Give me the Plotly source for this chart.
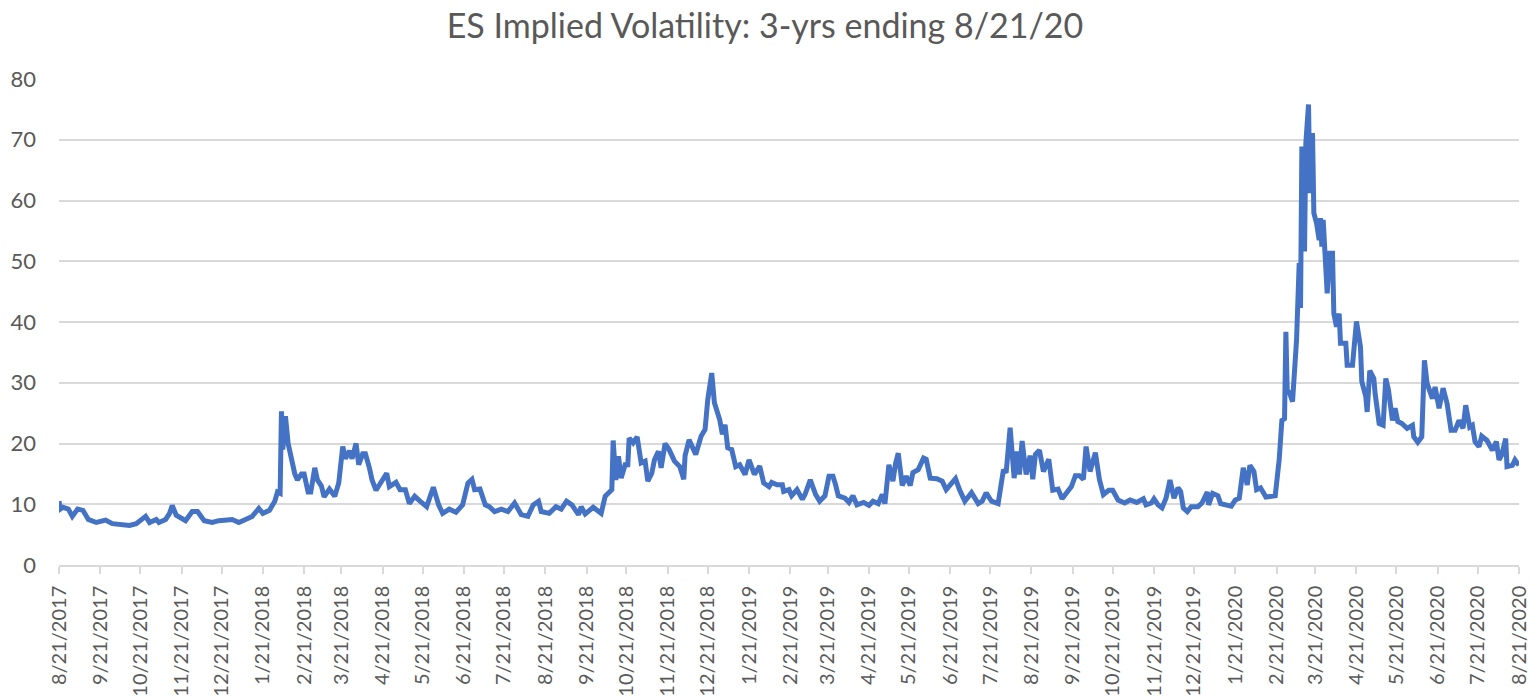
import pandas as pd
import plotly.graph_objects as go

# ES implied volatility; x = days since 8/21/2017
start = pd.Timestamp("2017-08-21")

day_offset = [
    0, 1, 3, 7, 10, 14, 18, 22, 28, 35, 40, 48, 53, 58, 65, 68, 73, 75, 80, 83,
    85, 88, 95, 100, 104, 109, 115, 120, 125, 130, 135, 140, 145, 150, 153, 158,
    162, 164, 166, 167, 168, 170, 172, 174, 177, 179, 182, 184, 187, 189, 192,
    194, 197, 199, 203, 207, 210, 213, 215, 218, 220, 223, 225, 228, 230, 233,
    235, 238,
    241, 246, 248, 253, 256, 260, 263, 267, 271, 276, 281, 285, 288, 293, 298,
    303, 307, 310, 312, 316, 320, 323, 327, 332, 337, 342, 347, 352, 356, 360,
    362, 368, 373, 377, 381, 385, 390, 392, 395, 401, 407, 410, 415, 416, 418,
    420, 422, 425, 427, 428, 431, 434, 437, 440, 442, 445, 447, 450, 452, 455,
    458, 462, 466, 469, 470, 473, 478, 482, 485, 487, 490, 492, 496, 498, 500,
    502, 505, 508, 511, 515, 518, 522,
    526, 529, 533, 535, 539, 543, 544, 548, 550, 554, 558, 560, 564, 568, 571,
    575, 578, 581, 583, 585, 590, 593, 596, 599, 604, 608, 611, 615, 618, 620,
    623, 626, 628, 630, 633, 636, 639, 641, 645, 649, 651, 654, 659, 663, 666,
    669, 673, 676, 680, 685, 690, 693, 696, 700, 705, 709, 711, 714, 717, 719,
    721, 723, 726, 729, 731, 733, 736, 739, 743, 746, 750, 753, 756, 760, 763,
    766, 769, 771, 774, 778, 781, 784, 788, 791, 795, 800, 804, 809, 814, 816,
    820, 822, 825, 828, 831, 834, 837, 840, 842, 844, 847, 850, 855, 858, 862,
    863, 866, 870, 872, 876, 880, 883, 886, 889, 892, 894, 897, 899, 902, 906,
    910, 913, 916,
    917, 918, 920, 921, 922, 924, 926, 928, 929, 931, 932, 933, 935, 936, 938,
    939, 941, 942, 944, 946, 947, 948, 949, 952, 954, 956, 957, 959, 961, 962,
    966, 967, 971, 974, 977, 978, 981, 982, 984, 987, 988, 991, 994, 996, 998,
    1001, 1003, 1005, 1008, 1012, 1016, 1017, 1020, 1023, 1025, 1027, 1031,
    1033, 1036, 1039, 1042, 1045, 1048, 1051, 1054, 1056, 1059, 1061, 1063,
    1066, 1068, 1072, 1076, 1079, 1081, 1083, 1086, 1087, 1091, 1093, 1096,
]

implied_vol = [
    10.5, 9.2, 9.5, 9.2, 8.0, 9.2, 9.0, 7.5, 7.0, 7.4, 6.8, 6.6, 6.5, 6.8, 8.0,
    7.0, 7.5, 7.0, 7.5, 8.5, 9.8, 8.2, 7.3, 8.8, 8.8, 7.3, 7.0, 7.3, 7.3, 7.5,
    7.0, 7.4, 8.0, 9.3, 8.5, 9.0, 10.5, 12.0, 11.8, 25.3, 19.0, 24.5, 20.0,
    18.0, 15.0, 14.0, 15.0, 15.0, 12.0, 12.0, 16.0, 14.0, 13.0, 11.2, 12.5,
    11.3, 13.5, 19.5, 17.5, 18.8, 17.5, 20.0, 16.5, 18.3, 18.3, 16.0, 14.0, 12.3,
    13.5, 15.1, 12.9, 13.6, 12.4, 12.4, 10.1, 11.3, 10.5, 9.6, 12.8, 9.9, 8.5,
    9.2, 8.7, 9.9, 13.5, 14.1, 12.4, 12.5, 9.9, 9.6, 8.8, 9.2, 8.8, 10.2, 8.3,
    8.0, 9.9, 10.5, 8.8, 8.5, 9.6, 9.2, 10.5, 9.9, 8.3, 9.6, 8.4, 9.5, 8.5,
    11.3, 12.4, 20.5, 14.0, 17.9, 14.3, 16.5, 16.5, 20.9, 20.1, 21.1, 16.8,
    17.1, 13.8, 15.1, 17.3, 18.7, 16.0, 20.0, 19.0, 17.1, 16.2, 14.1, 18.0,
    20.6, 18.2, 21.2, 22.3, 27.2, 31.6, 26.7, 23.9, 21.5, 23.1, 19.3, 19.0,
    16.2, 16.5, 14.9, 17.3, 14.9,
    16.3, 13.5, 12.9, 13.6, 13.2, 13.2, 12.1, 12.4, 11.4, 12.4, 10.8, 11.6,
    14.0, 11.6, 10.5, 11.4, 14.6, 14.6, 13.2, 11.4, 11.0, 10.3, 11.4, 9.9,
    10.3, 9.8, 10.5, 10.1, 11.6, 10.1, 16.5, 13.8, 16.7, 18.4, 13.1, 14.6,
    13.1, 15.2, 15.7, 17.6, 17.4, 14.3, 14.2, 13.8, 12.4, 13.2, 14.2, 12.4,
    10.5, 11.9, 10.1, 10.5, 11.9, 10.5, 10.1, 15.7, 15.2, 22.6, 14.3, 18.7,
    14.9, 20.4, 14.9, 18.0, 14.1, 18.2, 18.9, 15.4, 17.4, 12.3, 12.5, 10.9,
    11.8, 12.9, 14.7, 14.7, 14.1, 19.5, 15.4, 18.5, 14.1, 11.6, 12.3, 12.3,
    10.7, 10.2, 10.7, 10.3, 10.9, 9.9,
    10.2, 10.9, 9.9, 9.4, 11.0, 14.0, 11.0, 12.7, 12.1, 9.4, 8.8, 9.6, 9.6,
    10.2, 12.0, 9.9, 11.8, 11.4, 10.1, 9.8, 9.7, 10.7, 11.0, 16.0, 13.2, 16.4,
    15.4, 12.4, 12.7, 11.2, 11.4, 11.4, 17.4,
    20.5, 23.8, 24.1, 38.4, 28.8, 28.2, 26.9, 34.3, 37.0, 49.7, 42.3, 68.9,
    51.6, 69.5, 75.8, 61.2, 71.1, 57.9, 56.3, 53.5, 57.1, 52.4, 56.8, 44.7,
    51.3, 51.3, 41.4, 39.2, 41.4, 36.5, 36.5, 32.9, 32.9, 40.1, 35.9, 30.2,
    27.7, 25.2, 32.0, 30.7, 28.2, 23.3, 23.0, 30.7, 28.8, 23.8, 25.8, 23.6,
    23.3, 22.5, 23.0, 21.1, 20.2, 21.1, 33.7, 29.9, 27.4, 29.3, 25.8, 29.1,
    26.6, 22.2, 22.2, 23.8, 22.5, 26.3, 22.7, 23.0, 20.3, 19.5, 21.2, 20.5,
    18.9, 20.3, 17.3, 18.1, 20.8, 16.2, 16.4, 17.3, 16.4,
]

# monthly ticks on the 21st
tick_dates = pd.date_range(start, periods=37, freq=pd.DateOffset(months=1))
tick_labels = [f"{d.month}/{d.day}/{d.year}" for d in tick_dates]

dates = start + pd.to_timedelta(day_offset, unit="D")

fig = go.Figure()
fig.add_trace(
    go.Scatter(
        x=dates,
        y=implied_vol,
        mode="lines",
        line=dict(color="#4472C4", width=5),
        showlegend=False,
    )
)

fig.update_layout(
    width=1530,
    height=696,
    paper_bgcolor="white",
    plot_bgcolor="white",
    margin=dict(l=59, r=11, t=79, b=131),
    font=dict(family="Lato", color="#595959", size=22),
    title=dict(
        text="ES Implied Volatility: 3-yrs ending 8/21/20",
        x=0.5, xanchor="center",
        y=1 - 26 / 696, yanchor="middle",
        font=dict(size=34, color="#595959"),
    ),
)

fig.update_xaxes(
    range=[tick_dates[0], tick_dates[-1]],
    tickvals=tick_dates,
    ticktext=tick_labels,
    tickangle=-90,
    tickfont=dict(size=20),
    ticklabelstandoff=4,
    ticklabeloverflow="allow",
    automargin=False,
    showgrid=False,
    showline=True,
    linecolor="#d9d9d9",
    linewidth=1.5,
    ticks="outside",
    ticklen=7,
    tickcolor="#d9d9d9",
    tickwidth=1.5,
    zeroline=False,
)
fig.update_yaxes(
    range=[0, 80],
    dtick=10,
    automargin=False,
    showgrid=True,
    gridcolor="#d9d9d9",
    gridwidth=1.5,
    zeroline=False,
    showline=False,
    ticks="",
    ticklabelstandoff=22,
)

# drop the default page margin so the figure sits at the window corner
fig.write_html(
    "out.html",
    config={"displayModeBar": False},
    post_script="document.body.style.margin='0';",
)
